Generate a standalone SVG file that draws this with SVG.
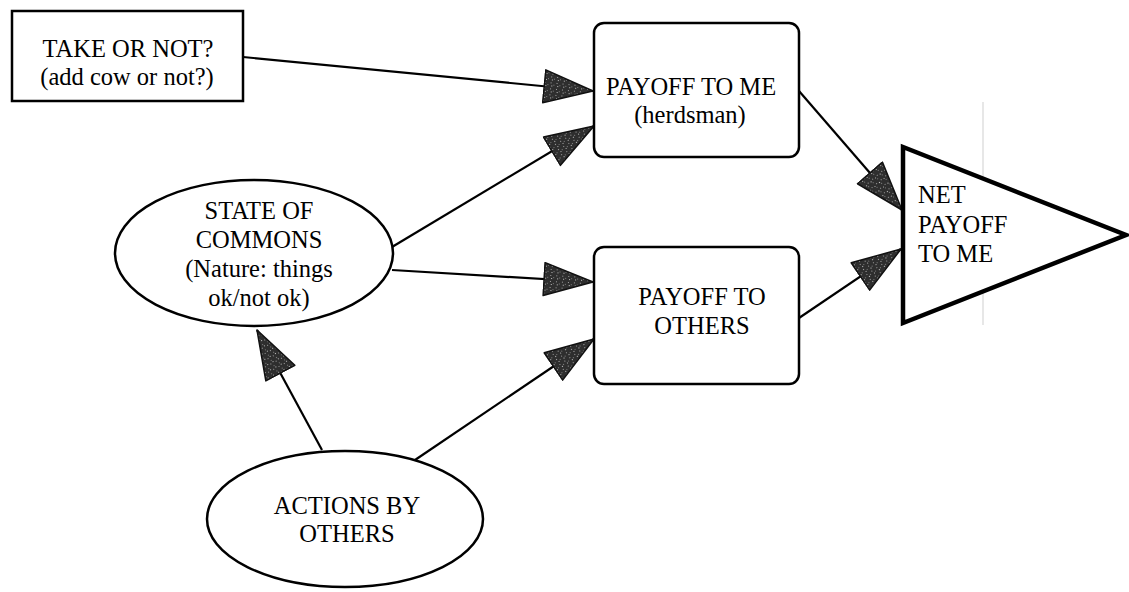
<svg xmlns="http://www.w3.org/2000/svg" width="1129" height="592" viewBox="0 0 1129 592">
  <style>
    .t { font-family: "Liberation Serif", "Times New Roman", serif; font-size: 24.5px; fill: #000; }
    .c { text-anchor: middle; }
    .box { fill: #fff; stroke: #000; stroke-width: 2.5; }
    .tri { fill: #fff; stroke: #000; stroke-width: 4.5; stroke-linejoin: miter; }
    .conn { fill: none; stroke: #000; stroke-width: 2.2; marker-end: url(#arr); }
  </style>
  <defs>
    <pattern id="speck" width="6" height="6" patternUnits="userSpaceOnUse">
      <rect width="6" height="6" fill="#2e2e2e"/>
      <rect x="1" y="1" width="1" height="1" fill="#a0a0a0"/>
      <rect x="4" y="3" width="1" height="1" fill="#808080"/>
      <rect x="2" y="4" width="1" height="1" fill="#c0c0c0"/>
    </pattern>
    <marker id="arr" markerUnits="userSpaceOnUse" markerWidth="52" markerHeight="38" refX="50" refY="17.5" orient="auto" viewBox="0 0 52 38">
      <path d="M1,1 L50,17.5 L1,34 Z" fill="url(#speck)" stroke="#111" stroke-width="1.5" stroke-linejoin="round"/>
    </marker>
  </defs>

  <line x1="983" y1="102" x2="983" y2="325" stroke="#cfcfcf" stroke-width="1"/>

  <g id="connectors">
    <line class="conn" x1="243" y1="57" x2="593" y2="91"/>
    <line class="conn" x1="392" y1="247" x2="594" y2="126"/>
    <line class="conn" x1="392" y1="270" x2="593" y2="282"/>
    <line class="conn" x1="322" y1="450" x2="257" y2="330"/>
    <line class="conn" x1="415" y1="460" x2="594" y2="339"/>
    <line class="conn" x1="799" y1="91" x2="902" y2="210"/>
    <line class="conn" x1="799" y1="318" x2="901" y2="249"/>
  </g>

  <g id="take">
    <rect class="box" x="12" y="11" width="231" height="90"/>
    <text class="t c" x="128" y="57">TAKE OR NOT?</text>
    <text class="t c" x="127" y="85">(add cow or not?)</text>
  </g>

  <g id="payoff-me">
    <rect class="box" x="594" y="23" width="205" height="134" rx="10" ry="10"/>
    <text class="t c" x="691" y="95">PAYOFF TO ME</text>
    <text class="t c" x="690" y="123">(herdsman)</text>
  </g>

  <g id="payoff-others">
    <rect class="box" x="594" y="247" width="205" height="137" rx="10" ry="10"/>
    <text class="t c" x="702" y="305">PAYOFF TO</text>
    <text class="t c" x="702" y="334">OTHERS</text>
  </g>

  <g id="net-payoff">
    <polygon class="tri" points="903,147 903,323 1126,235"/>
    <text class="t" x="918" y="203">NET</text>
    <text class="t" x="918" y="233">PAYOFF</text>
    <text class="t" x="918" y="262">TO ME</text>
  </g>

  <g id="state">
    <ellipse class="box" cx="254" cy="253" rx="139" ry="73"/>
    <text class="t c" x="259" y="219">STATE OF</text>
    <text class="t c" x="259" y="248">COMMONS</text>
    <text class="t c" x="259" y="277">(Nature: things</text>
    <text class="t c" x="259" y="306">ok/not ok)</text>
  </g>

  <g id="actions">
    <ellipse class="box" cx="345" cy="519" rx="138" ry="68"/>
    <text class="t c" x="347" y="514">ACTIONS BY</text>
    <text class="t c" x="347" y="542">OTHERS</text>
  </g>
</svg>
